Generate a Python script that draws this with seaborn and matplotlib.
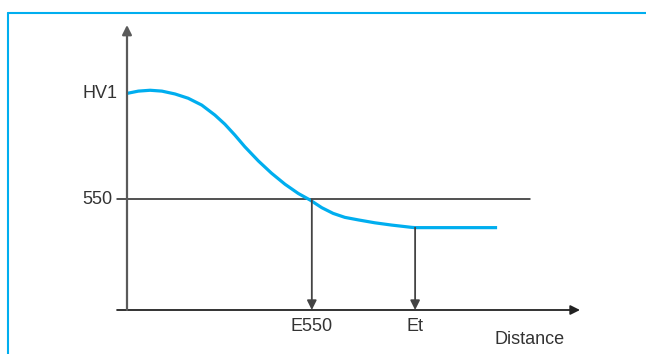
import matplotlib
matplotlib.use("Agg")
import matplotlib.pyplot as plt
from matplotlib.lines import Line2D
import seaborn as sns
import pandas as pd

# Hardness profile versus distance (arbitrary units)
distance = [0.0, 2.5, 5.1, 7.7, 10.6, 13.5, 16.5, 19.4, 21.6, 23.8, 26.0,
            29.0, 31.9, 34.9, 37.8, 40.4, 43.0, 45.5, 48.1, 51.1, 54.7,
            58.4, 62.8, 63.6, 81.7]
hardness = [76.0, 76.8, 77.1, 76.8, 75.8, 74.3, 71.9, 68.4, 65.2, 61.4, 57.3,
            52.3, 48.0, 44.1, 40.9, 38.6, 35.9, 33.9, 32.5, 31.6, 30.6,
            29.8, 29.0, 28.9, 28.9]

tick_labels = ["HV1", "550"]
tick_values = [76.0, 38.8]
marker_labels = ["E550", "Et"]
marker_x = [40.8, 63.6]
marker_y = [38.8, 28.9]
x_title = "Distance"

CYAN = "#00aeef"
AXIS = "#5a5a5a"
DARK = "#222222"
TEXT = "#333333"

sns.set_style("white")
plt.rcParams["font.family"] = ["Liberation Sans", "DejaVu Sans"]

fig = plt.figure(figsize=(6.46, 3.54), dpi=100)
ax = fig.add_axes([127 / 646, 44 / 354, 453 / 646, 285 / 354])
ax.set_xlim(0, 100)
ax.set_ylim(0, 100)
ax.axis("off")

# Coloured frame along the top and left edges
fig.add_artist(Line2D([8 / 646, 1], [1 - 12.5 / 354] * 2, transform=fig.transFigure,
                      color=CYAN, lw=1.5))
fig.add_artist(Line2D([8 / 646] * 2, [0, 1 - 12.5 / 354], transform=fig.transFigure,
                      color=CYAN, lw=1.5))

# Axes drawn as arrows
arrow = dict(arrowstyle="-|>", mutation_scale=14, shrinkA=0, shrinkB=0)
ax.annotate("", xy=(100, 0), xytext=(-2.2, 0), annotation_clip=False,
            arrowprops=dict(arrow, color=DARK, lw=1.3))
ax.annotate("", xy=(0, 100), xytext=(0, 0), annotation_clip=False,
            arrowprops=dict(arrow, color=AXIS, lw=1.6))

# 550 reference line with its tick
ax.plot([-2.2, 89], [tick_values[1]] * 2, color=DARK, lw=1.1, clip_on=False)

# Curve
df = pd.DataFrame({"distance": distance, "hardness": hardness})
sns.lineplot(data=df, x="distance", y="hardness", ax=ax, color=CYAN, lw=2.3,
             sort=False, estimator=None, legend=False,
             solid_joinstyle="round", solid_capstyle="butt")

# Drop arrows to the distance axis
for mx, my in zip(marker_x, marker_y):
    ax.annotate("", xy=(mx, 0), xytext=(mx, my), annotation_clip=False,
                arrowprops=dict(arrow, color="#444444", lw=1.3))

# Labels
fs = 13
ax.text(-2.2, tick_values[0], tick_labels[0], ha="right", va="center",
        fontsize=fs, color=TEXT)
ax.text(-3.3, tick_values[1], tick_labels[1], ha="right", va="center",
        fontsize=fs, color=TEXT)
for mx, lab in zip(marker_x, marker_labels):
    ax.annotate(lab, xy=(mx, 0), xytext=(0, -12), textcoords="offset points",
                ha="center", va="center", fontsize=fs, color=TEXT,
                annotation_clip=False)
ax.annotate(x_title, xy=(88.9, 0), xytext=(0, -21), textcoords="offset points",
            ha="center", va="center", fontsize=fs, color=TEXT,
            annotation_clip=False)

fig.savefig("out.png", dpi=100)
